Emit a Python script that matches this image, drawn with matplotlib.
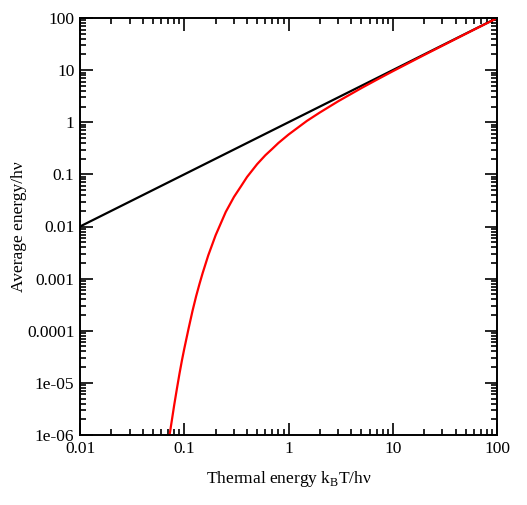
import matplotlib
matplotlib.use("Agg")
import matplotlib.pyplot as plt
from matplotlib.ticker import LogLocator, NullFormatter, FixedLocator, FixedFormatter

# 古典論: <E>/hv = kT/hv
classical_x = [0.01, 100]
classical_y = [0.01, 100]

# プランク: 図から読み取った値
planck_x = [0.0723, 0.075, 0.08, 0.085, 0.09, 0.095, 0.1, 0.11, 0.12, 0.13, 0.14, 0.15,
            0.17, 0.2, 0.25, 0.3, 0.35, 0.4, 0.5, 0.6, 0.7, 0.8, 1.0, 1.5, 2, 3, 5, 7,
            10, 20, 50, 100]
planck_y = [1.0e-6, 1.6e-6, 3.7e-6, 7.7e-6, 1.5e-5, 2.7e-5, 4.5e-5, 1.1e-4, 2.4e-4,
            4.6e-4, 7.9e-4, 1.27e-3, 2.8e-3, 6.8e-3, 1.9e-2, 3.7e-2, 5.9e-2, 8.9e-2,
            0.157, 0.233, 0.31, 0.40, 0.58, 1.06, 1.54, 2.53, 4.52, 6.51, 9.51, 19.5,
            49.5, 99.5]

x_ticks = [0.01, 0.1, 1, 10, 100]
x_labels = ["0.01", "0.1", "1", "10", "100"]
y_ticks = [1e-6, 1e-5, 1e-4, 1e-3, 1e-2, 1e-1, 1, 10, 100]
y_labels = ["1e-06", "1e-05", "0.0001", "0.001", "0.01", "0.1", "1", "10", "100"]

plt.rcParams["font.family"] = ["Liberation Serif", "DejaVu Serif"]
plt.rcParams["mathtext.fontset"] = "custom"
plt.rcParams["mathtext.rm"] = "Liberation Serif"

fig = plt.figure(figsize=(5.27, 5.05), dpi=100)
ax = fig.add_axes([80 / 527, 1 - 435 / 505, 417 / 527, 417 / 505])

ax.plot(classical_x, classical_y, color="black", lw=1.6)
ax.plot(planck_x, planck_y, color="red", lw=1.6)

ax.set_xscale("log")
ax.set_yscale("log")
ax.set_xlim(0.01, 100)
ax.set_ylim(1e-6, 100)

ax.xaxis.set_major_locator(FixedLocator(x_ticks))
ax.xaxis.set_major_formatter(FixedFormatter(x_labels))
ax.yaxis.set_major_locator(FixedLocator(y_ticks))
ax.yaxis.set_major_formatter(FixedFormatter(y_labels))
ax.xaxis.set_minor_locator(LogLocator(base=10, subs=range(2, 10), numticks=20))
ax.yaxis.set_minor_locator(LogLocator(base=10, subs=range(2, 10), numticks=20))
ax.xaxis.set_minor_formatter(NullFormatter())
ax.yaxis.set_minor_formatter(NullFormatter())

ax.tick_params(which="both", direction="in", top=True, right=True, width=1.2, labelsize=12.5)
ax.tick_params(which="major", length=9, pad=4)
ax.tick_params(which="minor", length=4.5)
for s in ax.spines.values():
    s.set_linewidth(1.4)

ax.set_xlabel(r"Thermal energy k$_\mathregular{B}$T/hν", fontsize=12.5)
ax.set_ylabel("Average energy/hν", fontsize=12.5)
ax.xaxis.set_label_coords(0.5, -(479 - 435) / 417, transform=ax.transAxes)
ax.yaxis.set_label_coords(-(80 - 19) / 417, 0.5, transform=ax.transAxes)
ax.xaxis.label.set_va("center")
ax.yaxis.label.set_va("center")

fig.savefig("out.png", dpi=100)
